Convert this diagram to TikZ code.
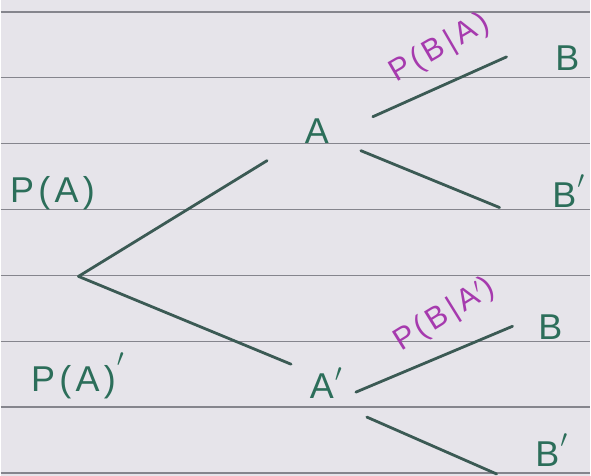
\documentclass[tikz,border=0pt]{standalone}
\usepackage{fontspec}
\setmainfont{Liberation Sans}[LetterSpace=12]
\definecolor{paper}{HTML}{E6E4EA}
\definecolor{ruling}{HTML}{85858D}
\definecolor{ink}{HTML}{3B5A54}
\definecolor{greenink}{HTML}{2C6E5A}
\definecolor{purpleink}{HTML}{A63AAE}
\newcommand\hprime[1][5pt]{\rlap{\smash{\kern1pt\raisebox{#1}{$'$}}}}
\begin{document}
\begin{tikzpicture}[x=1pt, y=1pt,
    branch/.style={ink, line width=2.8pt, line cap=round},
    event/.style={greenink, inner sep=0pt, font=\fontsize{36}{36}\selectfont},
    cond/.style={purpleink, inner sep=0pt, font=\fontsize{31}{31}\selectfont}]
        % Paper and ruled lines
        \fill[paper] (0,0) rectangle (591,477);
        \foreach \k in {0,...,7}
            \draw[ruling, line width=1.3pt] (0,{465-66*\k}) -- (591,{465-66*\k});
        \useasboundingbox (0,0) rectangle (591,477);

        % Nodes
        \coordinate (root) at (78,200);
        \node[event] (A) at (317,346) {A};
        \node[event] (Ac) at (322,90) {A\hprime[8pt]};
        \node[event] (BA) at (568,419) {B};
        \node[event] (BcA) at (565,281) {B\hprime[10pt]};
        \node[event] (BAc) at (551,149) {B};
        \node[event] (BcAc) at (548,22) {B\hprime[10pt]};

        \node[event] (pA) at (52,283) {P(A)};
        \node[event] (pAc) at (73,94) {P(A)\hprime[16pt]};

        % Branches
        \draw[branch] (root) -- ([shift={(-50,-30)}]A.center);
        \draw[branch] (root) -- ([shift={(-31,22)}]Ac.center);
        \draw[branch] ([shift={(56,14)}]A.center) -- node[cond, pos=0.62, sloped, above=19pt, rotate=6] {P(B|A)} ([shift={(-61,1)}]BA.center);
        \draw[branch] ([shift={(44,-20)}]A.center) -- ([shift={(-65,-12)}]BcA.center);
        \draw[branch] ([shift={(34,-6)}]Ac.center) -- node[cond, pos=0.67, sloped, above=21pt, rotate=9] {P(B|A$'$)} ([shift={(-38,1)}]BAc.center);
        \draw[branch] ([shift={(45,-31)}]Ac.center) -- ([shift={(-51,-20)}]BcAc.center);

    \end{tikzpicture}
\end{document}
